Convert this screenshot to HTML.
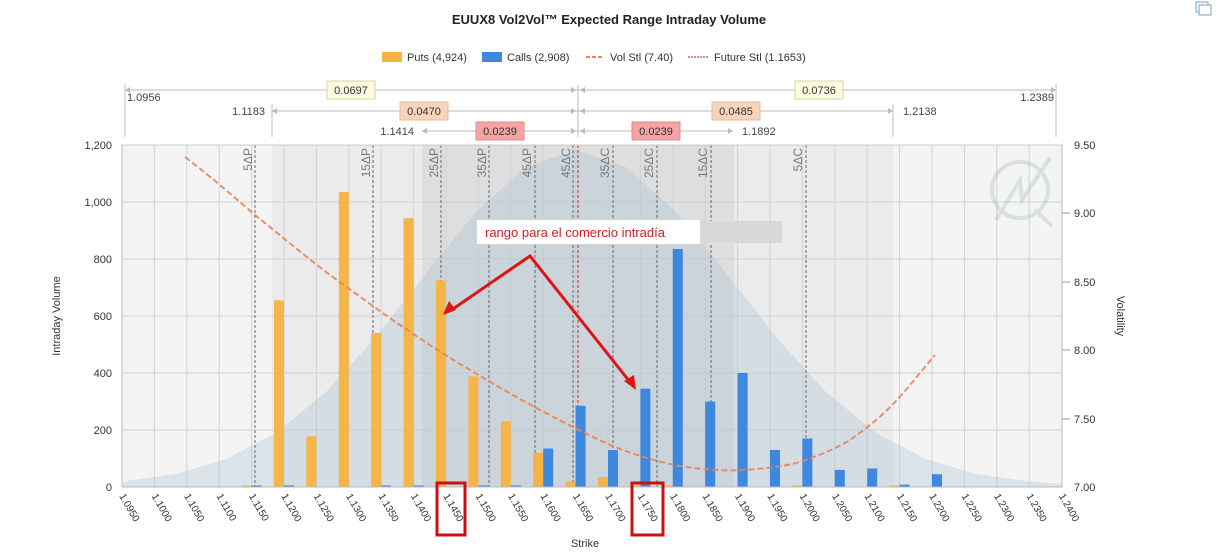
<!DOCTYPE html>
<html><head><meta charset="utf-8"><style>
body{margin:0;background:#fff;}
svg{display:block;font-family:"Liberation Sans",sans-serif;}
</style></head><body>
<svg width="1218" height="559" viewBox="0 0 1218 559" xmlns="http://www.w3.org/2000/svg">
<rect x="0" y="0" width="1218" height="559" fill="#fff"/>
<text x="609" y="24" text-anchor="middle" font-size="13" font-weight="bold" fill="#222">EUUX8 Vol2Vol™ Expected Range Intraday Volume</text>
<!-- legend -->
<rect x="382" y="52" width="20" height="10" fill="#f5b240"/><text x="407" y="61" font-size="11" fill="#333">Puts (4,924)</text>
<rect x="482" y="52" width="20" height="10" fill="#3f88e0"/><text x="507" y="61" font-size="11" fill="#333">Calls (2,908)</text>
<line x1="586" y1="57" x2="604" y2="57" stroke="#e8845a" stroke-width="2" stroke-dasharray="4,2"/><text x="610" y="61" font-size="11" fill="#333">Vol Stl (7.40)</text>
<line x1="688" y1="57" x2="708" y2="57" stroke="#a02020" stroke-width="1" stroke-dasharray="2,1"/><text x="714" y="61" font-size="11" fill="#333">Future Stl (1.1653)</text>
<!-- range rows -->
<g stroke="#c8c8c8" stroke-width="1.2">
<line x1="125" y1="84" x2="125" y2="137"/><line x1="1056" y1="84" x2="1056" y2="137"/>
<line x1="272" y1="104" x2="272" y2="137"/><line x1="893" y1="104" x2="893" y2="137"/>
<line x1="125" y1="90" x2="1056" y2="90"/>
<line x1="272" y1="111" x2="893" y2="111"/>
<line x1="422" y1="131" x2="733" y2="131"/>
<line x1="578" y1="85" x2="578" y2="137"/>
</g>
<g fill="#bbb"><path d="M125 90l5-3v6z"/><path d="M1056 90l-5-3v6z"/><path d="M272 111l5-3v6z"/><path d="M893 111l-5-3v6z"/><path d="M422 131l5-3v6z"/><path d="M733 131l-5-3v6z"/>
<path d="M576 90l-5-3v6z"/><path d="M580 90l5-3v6z"/><path d="M576 111l-5-3v6z"/><path d="M580 111l5-3v6z"/><path d="M576 131l-5-3v6z"/><path d="M580 131l5-3v6z"/></g>
<g font-size="11" fill="#444">
<text x="127" y="101">1.0956</text><text x="1054" y="101" text-anchor="end">1.2389</text>
<text x="265" y="115" text-anchor="end">1.1183</text><text x="903" y="115">1.2138</text>
<text x="414" y="135" text-anchor="end">1.1414</text><text x="742" y="135">1.1892</text>
</g>
<g font-size="11" fill="#333" text-anchor="middle">
<rect x="327" y="81" width="48" height="18" fill="#fdfbe0" stroke="#d8d4a8"/><text x="351" y="94">0.0697</text>
<rect x="795" y="81" width="48" height="18" fill="#fdfbe0" stroke="#d8d4a8"/><text x="819" y="94">0.0736</text>
<rect x="400" y="102" width="48" height="18" fill="#f9d4bc" stroke="#e6b89a"/><text x="424" y="115">0.0470</text>
<rect x="712" y="102" width="48" height="18" fill="#f9d4bc" stroke="#e6b89a"/><text x="736" y="115">0.0485</text>
<rect x="476" y="122" width="48" height="18" fill="#f4a4a4" stroke="#de8a8a"/><text x="500" y="135">0.0239</text>
<rect x="632" y="122" width="48" height="18" fill="#f4a4a4" stroke="#de8a8a"/><text x="656" y="135">0.0239</text>
</g>
<!-- plot background bands -->
<rect x="122" y="145" width="940" height="342" fill="#f4f4f4"/>
<rect x="272" y="145" width="621" height="342" fill="#ebebeb"/>
<rect x="422" y="145" width="312" height="342" fill="#dedede"/>
<!-- gridlines -->
<g stroke="#d2d2d2" stroke-width="1">
<line x1="122" y1="202" x2="1062" y2="202"/><line x1="122" y1="259" x2="1062" y2="259"/><line x1="122" y1="316" x2="1062" y2="316"/><line x1="122" y1="373" x2="1062" y2="373"/><line x1="122" y1="430" x2="1062" y2="430"/>
<line x1="154.4" y1="145" x2="154.4" y2="487"/><line x1="186.8" y1="145" x2="186.8" y2="487"/><line x1="219.2" y1="145" x2="219.2" y2="487"/><line x1="251.6" y1="145" x2="251.6" y2="487"/><line x1="284" y1="145" x2="284" y2="487"/><line x1="316.4" y1="145" x2="316.4" y2="487"/><line x1="348.8" y1="145" x2="348.8" y2="487"/><line x1="381.2" y1="145" x2="381.2" y2="487"/><line x1="413.6" y1="145" x2="413.6" y2="487"/><line x1="446" y1="145" x2="446" y2="487"/><line x1="478.4" y1="145" x2="478.4" y2="487"/><line x1="510.8" y1="145" x2="510.8" y2="487"/><line x1="543.2" y1="145" x2="543.2" y2="487"/><line x1="575.6" y1="145" x2="575.6" y2="487"/><line x1="608" y1="145" x2="608" y2="487"/><line x1="640.4" y1="145" x2="640.4" y2="487"/><line x1="672.8" y1="145" x2="672.8" y2="487"/><line x1="705.2" y1="145" x2="705.2" y2="487"/><line x1="737.6" y1="145" x2="737.6" y2="487"/><line x1="770" y1="145" x2="770" y2="487"/><line x1="802.4" y1="145" x2="802.4" y2="487"/><line x1="834.8" y1="145" x2="834.8" y2="487"/><line x1="867.2" y1="145" x2="867.2" y2="487"/><line x1="899.6" y1="145" x2="899.6" y2="487"/><line x1="932" y1="145" x2="932" y2="487"/><line x1="964.4" y1="145" x2="964.4" y2="487"/><line x1="996.8" y1="145" x2="996.8" y2="487"/><line x1="1029.2" y1="145" x2="1029.2" y2="487"/>
</g>
<!-- bell -->
<path d="M122 484 L126 481 L176 474 L226 459 L276 433 L326 392 L376 337 L426 273 L476 212 L526 167 L576 150 L626 167 L676 212 L726 273 L776 337 L826 392 L876 433 L926 459 L976 474 L1026 481 L1062 484 L1062 487 L122 487Z" fill="#a9c4d8" fill-opacity="0.35"/>
<!-- logo -->
<g opacity="0.25" stroke="#8aa" fill="none" stroke-width="4"><circle cx="1020" cy="190" r="28"/><line x1="1035" y1="210" x2="1052" y2="226"/><path d="M996 220 L1020 180 L1022 200 L1050 158"/></g>
<!-- delta lines -->
<g stroke="#666" stroke-width="1" stroke-dasharray="3,2">
<line x1="255" y1="145" x2="255" y2="487"/><line x1="373" y1="145" x2="373" y2="487"/><line x1="441" y1="145" x2="441" y2="487"/><line x1="489" y1="145" x2="489" y2="487"/><line x1="535" y1="145" x2="535" y2="487"/><line x1="573" y1="145" x2="573" y2="487"/><line x1="613" y1="145" x2="613" y2="487"/><line x1="657" y1="145" x2="657" y2="487"/><line x1="711" y1="145" x2="711" y2="487"/><line x1="806" y1="145" x2="806" y2="487"/>
</g>
<line x1="578" y1="145" x2="578" y2="487" stroke="#d02020" stroke-width="1" stroke-dasharray="3,2"/>
<g font-size="12" fill="#777" text-anchor="end">
<text transform="translate(252,148) rotate(-90)">5ΔP</text>
<text transform="translate(370,148) rotate(-90)">15ΔP</text>
<text transform="translate(438,148) rotate(-90)">25ΔP</text>
<text transform="translate(486,148) rotate(-90)">35ΔP</text>
<text transform="translate(531,148) rotate(-90)">45ΔP</text>
<text transform="translate(570,148) rotate(-90)">45ΔC</text>
<text transform="translate(609,148) rotate(-90)">35ΔC</text>
<text transform="translate(653,148) rotate(-90)">25ΔC</text>
<text transform="translate(707,148) rotate(-90)">15ΔC</text>
<text transform="translate(802,148) rotate(-90)">5ΔC</text>
</g>
<!-- puts -->
<g fill="#f5b240" fill-opacity="0.95">
<rect x="241.6" y="485.6" width="10" height="1.4"/>
<rect x="274" y="300.3" width="10" height="186.7"/>
<rect x="306.4" y="436.3" width="10" height="50.7"/>
<rect x="338.8" y="192" width="10" height="295"/>
<rect x="371.2" y="333.1" width="10" height="153.9"/>
<rect x="403.6" y="218.2" width="10" height="268.8"/>
<rect x="436" y="280.4" width="10" height="206.6"/>
<rect x="468.4" y="376.4" width="10" height="110.6"/>
<rect x="500.8" y="421.4" width="10" height="65.6"/>
<rect x="533.2" y="452.8" width="10" height="34.2"/>
<rect x="565.6" y="481.3" width="10" height="5.7"/>
<rect x="598" y="477" width="10" height="10"/>
<rect x="630.4" y="485.5" width="10" height="1.5"/>
<rect x="662.8" y="485.5" width="10" height="1.5"/>
<rect x="792.4" y="485.5" width="10" height="1.5"/>
<rect x="889.6" y="485.5" width="10" height="1.5"/>
</g>
<!-- calls -->
<g fill="#3f88e0">
<rect x="251.6" y="485.5" width="10" height="1.5"/>
<rect x="284" y="485.5" width="10" height="1.5"/>
<rect x="381.2" y="485.5" width="10" height="1.5"/>
<rect x="413.6" y="485.5" width="10" height="1.5"/>
<rect x="478.4" y="485.5" width="10" height="1.5"/>
<rect x="510.8" y="485.5" width="10" height="1.5"/>
<rect x="543.2" y="448.5" width="10" height="38.5"/>
<rect x="575.6" y="405.8" width="10" height="81.2"/>
<rect x="608" y="450" width="10" height="37"/>
<rect x="640.4" y="388.7" width="10" height="98.3"/>
<rect x="672.8" y="249" width="10" height="238"/>
<rect x="705.2" y="401.5" width="10" height="85.5"/>
<rect x="737.6" y="373" width="10" height="114"/>
<rect x="770" y="450" width="10" height="37"/>
<rect x="802.4" y="438.5" width="10" height="48.5"/>
<rect x="834.8" y="469.9" width="10" height="17.1"/>
<rect x="867.2" y="468.5" width="10" height="18.5"/>
<rect x="899.6" y="484.7" width="10" height="2.3"/>
<rect x="932" y="474.2" width="10" height="12.8"/>
</g>
<!-- vol curve -->
<path d="M185 157 C215 180 235 198 255 215 C280 235 305 256 330 275 C355 293 378 310 400 325 C425 342 448 357 470 370 C495 385 518 398 540 410 C565 423 588 435 610 445 C635 455 658 462 680 466 C705 470 725 471 740 470 C765 469 785 466 800 462 C820 455 835 449 850 440 C867 428 882 416 895 402 C910 386 922 370 935 355" fill="none" stroke="#e8845a" stroke-width="2" stroke-dasharray="6,3" opacity="0.9"/>
<!-- axes -->
<line x1="122" y1="145" x2="122" y2="487" stroke="#bbb"/>
<line x1="1062" y1="145" x2="1062" y2="487" stroke="#bbb"/>
<line x1="122" y1="487" x2="1062" y2="487" stroke="#bbb"/>
<line x1="122" y1="145" x2="1062" y2="145" stroke="#ccc"/>
<g font-size="11" fill="#333" text-anchor="end">
<text x="112" y="149">1,200</text><text x="112" y="206">1,000</text><text x="112" y="263">800</text><text x="112" y="320">600</text><text x="112" y="377">400</text><text x="112" y="434">200</text><text x="112" y="491">0</text>
</g>
<g stroke="#999"><line x1="1062" y1="213" x2="1070" y2="213"/><line x1="1062" y1="282" x2="1070" y2="282"/><line x1="1062" y1="350" x2="1070" y2="350"/><line x1="1062" y1="419" x2="1070" y2="419"/></g>
<g font-size="11" fill="#333">
<text x="1074" y="149">9.50</text><text x="1074" y="217">9.00</text><text x="1074" y="286">8.50</text><text x="1074" y="354">8.00</text><text x="1074" y="423">7.50</text><text x="1074" y="491">7.00</text>
</g>
<text transform="translate(60,316) rotate(-90)" font-size="11" fill="#333" text-anchor="middle">Intraday Volume</text>
<text transform="translate(1117,316) rotate(90)" font-size="11" fill="#333" text-anchor="middle">Volatility</text>
<text x="585" y="547" font-size="11" fill="#333" text-anchor="middle">Strike</text>
<!-- x tick labels -->
<g font-size="10" fill="#333">
<text transform="translate(119,496) rotate(60)">1.0950</text>
<text transform="translate(151.4,496) rotate(60)">1.1000</text>
<text transform="translate(183.8,496) rotate(60)">1.1050</text>
<text transform="translate(216.2,496) rotate(60)">1.1100</text>
<text transform="translate(248.6,496) rotate(60)">1.1150</text>
<text transform="translate(281,496) rotate(60)">1.1200</text>
<text transform="translate(313.4,496) rotate(60)">1.1250</text>
<text transform="translate(345.8,496) rotate(60)">1.1300</text>
<text transform="translate(378.2,496) rotate(60)">1.1350</text>
<text transform="translate(410.6,496) rotate(60)">1.1400</text>
<text transform="translate(443,496) rotate(60)">1.1450</text>
<text transform="translate(475.4,496) rotate(60)">1.1500</text>
<text transform="translate(507.8,496) rotate(60)">1.1550</text>
<text transform="translate(540.2,496) rotate(60)">1.1600</text>
<text transform="translate(572.6,496) rotate(60)">1.1650</text>
<text transform="translate(605,496) rotate(60)">1.1700</text>
<text transform="translate(637.4,496) rotate(60)">1.1750</text>
<text transform="translate(669.8,496) rotate(60)">1.1800</text>
<text transform="translate(702.2,496) rotate(60)">1.1850</text>
<text transform="translate(734.6,496) rotate(60)">1.1900</text>
<text transform="translate(767,496) rotate(60)">1.1950</text>
<text transform="translate(799.4,496) rotate(60)">1.2000</text>
<text transform="translate(831.8,496) rotate(60)">1.2050</text>
<text transform="translate(864.2,496) rotate(60)">1.2100</text>
<text transform="translate(896.6,496) rotate(60)">1.2150</text>
<text transform="translate(929,496) rotate(60)">1.2200</text>
<text transform="translate(961.4,496) rotate(60)">1.2250</text>
<text transform="translate(993.8,496) rotate(60)">1.2300</text>
<text transform="translate(1026.2,496) rotate(60)">1.2350</text>
<text transform="translate(1058.6,496) rotate(60)">1.2400</text>
</g>
<!-- annotation -->
<rect x="700" y="221" width="82" height="22" fill="#d8d8d8"/>
<rect x="477" y="220" width="223" height="24" fill="#fff"/>
<text x="485" y="237" font-size="13" fill="#cc2020">rango para el comercio intradía</text>
<g stroke="#dd1414" stroke-width="3" fill="none"><path d="M450 311 L530 256 L630 382"/></g>
<path d="M443 315 L449 301 L456 310Z" fill="#dd1414"/>
<path d="M636 390 L624 381 L634 375Z" fill="#dd1414"/>
<rect x="437" y="483" width="28" height="52" fill="none" stroke="#cc1010" stroke-width="3"/>
<rect x="632" y="483" width="31" height="52" fill="none" stroke="#cc1010" stroke-width="3"/>
<!-- corner icon -->
<rect x="1196" y="2" width="12" height="10" fill="none" stroke="#7a9ccc"/><rect x="1199" y="5" width="12" height="10" fill="#fff" stroke="#7a9ccc"/>
</svg>
</body></html>
